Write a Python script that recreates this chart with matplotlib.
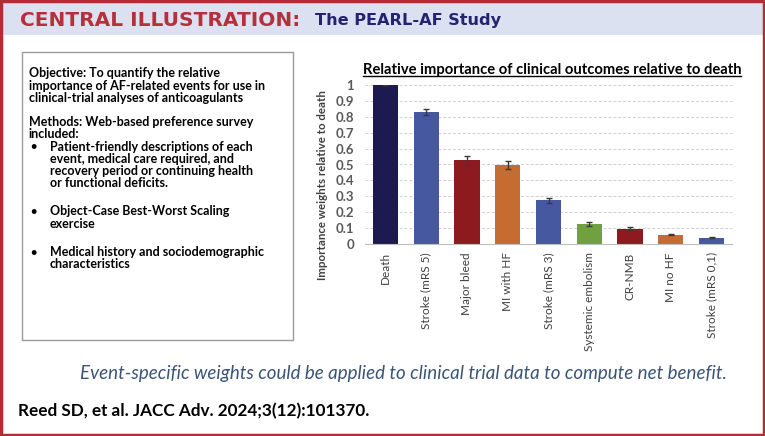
import matplotlib.pyplot as plt
from matplotlib.patches import Rectangle
from matplotlib.lines import Line2D

outcomes = ['Death', 'Stroke (mRS 5)', 'Major bleed', 'MI with HF', 'Stroke (mRS 3)',
            'Systemic embolism', 'CR-NMB', 'MI no HF', 'Stroke (mRS 0,1)']
weights = [1.0, 0.832, 0.526, 0.499, 0.275, 0.128, 0.096, 0.059, 0.040]
errors = [0.0, 0.020, 0.030, 0.025, 0.015, 0.012, 0.010, 0.005, 0.004]
bar_colors = ['#1c1a4f', '#4658a0', '#8c1a1e', '#c66c30', '#4658a0',
              '#70a040', '#8c1a1e', '#c66c30', '#4658a0']
yticks = [0, 0.1, 0.2, 0.3, 0.4, 0.5, 0.6, 0.7, 0.8, 0.9, 1]
ytick_labels = ['0', '0.1', '0.2', '0.3', '0.4', '0.5', '0.6', '0.7', '0.8', '0.9', '1']

# (text, bullet?) - bullet None means an indented continuation line
box_lines = [
    ('Objective: To quantify the relative', False),
    ('importance of AF-related events for use in', False),
    ('clinical-trial analyses of anticoagulants', False),
    ('Methods: Web-based preference survey', False),
    ('included:', False),
    ('Patient-friendly descriptions of each', True),
    ('event, medical care required, and', None),
    ('recovery period or continuing health', None),
    ('or functional deficits.', None),
    ('Object-Case Best-Worst Scaling', True),
    ('exercise', None),
    ('Medical history and sociodemographic', True),
    ('characteristics', None),
]
# vertical pixel position of each line in the box
box_line_y = [73.3, 85.7, 98, 121.7, 134, 146.7, 159, 171, 183.3, 211.3, 223.7, 252.3, 264.3]

W, H = 765, 436
plt.rcParams['font.family'] = ['Lato', 'DejaVu Sans']
fig = plt.figure(figsize=(W / 100, H / 100), dpi=100)


def fx(px):
    return px / W


def fy(py):
    return 1 - py / H


# frame and header band
fig.patches.append(Rectangle((fx(2), fy(35)), fx(761), 33 / H, transform=fig.transFigure,
                             facecolor='#dce1f2', edgecolor='none', zorder=0))
fig.patches.append(Rectangle((fx(1.2), fy(434.8)), fx(762.6), 433.6 / H, transform=fig.transFigure,
                             facecolor='none', edgecolor='#b22e35', lw=2.5, zorder=5))

fig.text(fx(20), fy(20), 'CENTRAL ILLUSTRATION:', color='#b5303a', fontsize=14.5,
         fontweight='bold', family=['DejaVu Sans'], va='center', ha='left')
fig.text(fx(315), fy(20), 'The PEARL-AF Study', color='#232370', fontsize=11.6,
         fontweight='bold', family=['DejaVu Sans'], va='center', ha='left')

# left text box
fig.patches.append(Rectangle((fx(22), fy(340)), fx(271), 288 / H, transform=fig.transFigure,
                             facecolor='none', edgecolor='#9a9a9a', lw=1))
for (text, bullet), yy in zip(box_lines, box_line_y):
    if bullet is False:
        fig.text(fx(29), fy(yy), text, fontsize=9, fontweight='bold', va='center', ha='left')
    else:
        if bullet:
            fig.text(fx(30), fy(yy), '\u2022', fontsize=8, fontweight='bold', va='center', ha='left')
        fig.text(fx(50), fy(yy), text, fontsize=9, fontweight='bold', va='center', ha='left')

# bar chart
ax = fig.add_axes([fx(365), fy(244), fx(367), 159 / H])
x = range(len(outcomes))
ax.bar(x, weights, width=0.62, color=bar_colors, zorder=2)
ax.errorbar(x, weights, yerr=errors, fmt='none', ecolor='#3a3a3a', elinewidth=1,
            capsize=2, capthick=1, zorder=3)
ax.set_xlim(-0.5, len(outcomes) - 0.5)
ax.set_ylim(0, 1)
ax.set_yticks(yticks)
ax.set_yticklabels(ytick_labels, fontsize=9.5, fontweight='bold', color='#595959')
ax.set_xticks(list(x))
ax.set_xticklabels(outcomes, rotation=90, fontsize=8.5, color='#404040')
ax.tick_params(length=0, pad=8)
ax.tick_params(axis='x', pad=6)
ax.yaxis.grid(True, linestyle=(0, (3, 2)), color='#d0d0d0', lw=0.7, zorder=0)
for s in ['top', 'right', 'left']:
    ax.spines[s].set_visible(False)
ax.spines['bottom'].set_color('#bfbfbf')
ax.spines['bottom'].set_zorder(4)
for gl in ax.get_ygridlines():
    gl.set_clip_on(False)

fig.text(fx(322), fy(185.5), 'Importance weights relative to death', rotation=90,
         fontsize=8.3, fontweight='bold', color='#404040', va='center', ha='center')

title = fig.text(fx(552), fy(70), 'Relative importance of clinical outcomes relative to death',
                 fontsize=10.6, fontweight='bold', color='black', va='center', ha='center')

fig.text(fx(79.5), fy(373), 'Event-specific weights could be applied to clinical trial data to compute net benefit.',
         fontsize=13.5, style='italic', color='#3b5478', va='center', ha='left')
fig.text(fx(18.5), fy(411), 'Reed SD, et al. JACC Adv. 2024;3(12):101370.',
         fontsize=12.3, fontweight='bold', color='black', va='center', ha='left')

# underline the chart title
fig.canvas.draw()
bb = title.get_window_extent().transformed(fig.transFigure.inverted())
fig.add_artist(Line2D([bb.x0, bb.x1], [bb.y0 + 0.002, bb.y0 + 0.002], transform=fig.transFigure,
                      color='black', lw=1))

fig.savefig('out.png', dpi=100)
